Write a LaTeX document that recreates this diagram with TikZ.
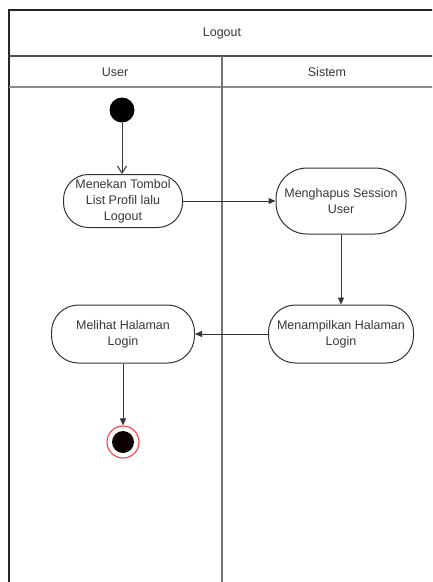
\documentclass[tikz,border=0pt]{standalone}
\usepackage{fontspec}
\setmainfont{Liberation Sans}
\usetikzlibrary{arrows.meta}
\begin{document}
\begin{tikzpicture}[x=1pt,y=-1pt,
  lbl/.style={font=\fontsize{12.5}{16}\selectfont, text=black!78},
  act/.style={draw=black!80, line width=1pt, fill=white, align=center,
    font=\fontsize{12.5}{16}\selectfont, text=black!78, inner sep=1pt},
  flow/.style={draw=black!80, line width=1pt, -{Triangle[length=7pt,width=6pt]}},
  openflow/.style={draw=black!80, line width=1pt, -{Straight Barb[length=7pt,width=9pt]}}]
\useasboundingbox (0,0) rectangle (432,582);
\clip (0,0) rectangle (432,582);
\fill[white] (0,0) rectangle (432,582);

% swimlane frame
\draw[black!85, line width=1.4pt] (9,600) -- (9,10) -- (450,10);
\draw[black!70, line width=1.2pt] (9,56) -- (450,56);
\draw[black!45, line width=1.2pt] (9,87) -- (450,87);
\draw[black!55, line width=1.6pt] (222,56) -- (222,600);

\node[lbl] (title) at (222,33) {Logout};
\node[lbl] (laneU) at (115,72) {User};
\node[lbl] (laneS) at (327,72) {Sistem};

% start
\fill[black] (122,110) circle (12.5);
\coordinate (start) at (122,110);
\node[circle, minimum size=25pt, inner sep=0pt] (st) at (122,110) {};

% actions
\node[act, rounded corners=25pt, minimum width=119pt, minimum height=53pt] (a1) at (123,201)
  {Menekan Tombol\\List Profil lalu\\Logout};
\node[act, rounded corners=31pt, minimum width=130pt, minimum height=66pt] (a2) at (341,201)
  {Menghapus Session\\User};
\node[act, rounded corners=27pt, minimum width=145pt, minimum height=58pt] (a3) at (341,334)
  {Menampilkan Halaman\\Login};
\node[act, rounded corners=27pt, minimum width=143pt, minimum height=58pt] (a4) at (123,334)
  {Melihat Halaman\\Login};

% end
\node[circle, draw=red!75, line width=1.1pt, minimum size=32pt, inner sep=0pt] (en) at (123,442) {};
\fill[black!95!red] (en.center) circle (11);

% flows
\draw[openflow] (st) -- (st |- a1.north);
\draw[flow] (a1) -- (a2);
\draw[flow] (a2) -- (a3);
\draw[flow] (a3) -- (a4);
\draw[flow] (a4) -- (en);
\end{tikzpicture}
\end{document}
